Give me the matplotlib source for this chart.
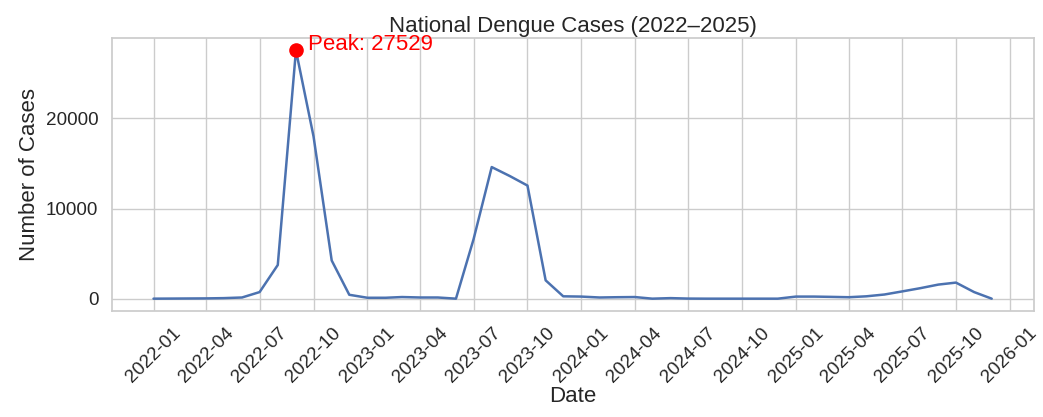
import numpy as np
import pandas as pd
import matplotlib
matplotlib.use("Agg")
import matplotlib.pyplot as plt
import matplotlib.dates as mdates
from matplotlib.ticker import MultipleLocator
import seaborn as sns

# monthly national dengue cases
months = pd.date_range("2022-01-01", "2025-12-01", freq="MS")
cases_2022 = [20, 30, 40, 50, 80, 150, 750, 3750, 27529, 18000, 4250, 450]
cases_2023 = [120, 120, 200, 150, 150, 20, 6600, 14600, 13600, 12550, 2050, 280]
cases_2024 = [250, 150, 180, 200, 20, 80, 30, 20, 20, 20, 20, 20]
cases_2025 = [250, 250, 220, 180, 280, 480, 820, 1180, 1580, 1800, 750, 20]
cases = np.array(cases_2022 + cases_2023 + cases_2024 + cases_2025)

sns.set_theme(style="whitegrid")
plt.rcParams["font.family"] = ["Liberation Sans", "DejaVu Sans"]

fig, ax = plt.subplots(figsize=(10.43, 4.17), dpi=100)
ax.plot(months, cases, color="#4C72B0", linewidth=1.8)

i_peak = int(np.argmax(cases))
ax.scatter(months[i_peak], cases[i_peak], color="red", s=90, zorder=3)
ax.annotate(f"Peak: {cases[i_peak]}", (months[i_peak], cases[i_peak]),
            xytext=(9, 0), textcoords="offset points",
            color="red", fontsize=16)

ax.xaxis.set_major_locator(mdates.MonthLocator(bymonth=[1, 4, 7, 10]))
ax.xaxis.set_major_formatter(mdates.DateFormatter("%Y-%m"))
ax.yaxis.set_major_locator(MultipleLocator(10000))

ax.set_title("National Dengue Cases (2022\u20132025)", fontsize=16, pad=4)
ax.set_xlabel("Date", fontsize=16, labelpad=0)
ax.set_ylabel("Number of Cases", fontsize=16)
ax.tick_params(axis="both", labelsize=13.6)
plt.setp(ax.get_xticklabels(), rotation=45)

fig.subplots_adjust(left=0.107, right=0.991, top=0.909, bottom=0.254)
fig.savefig("out.png", dpi=100)
